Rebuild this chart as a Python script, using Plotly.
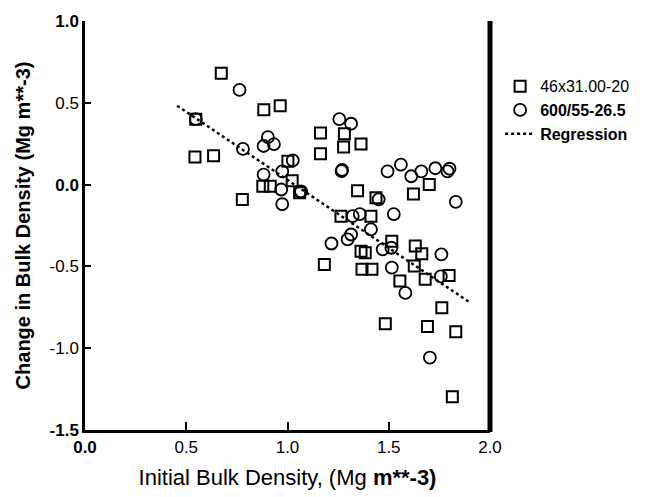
import plotly.graph_objects as go

# Series 1: 46x31.00-20 (squares)
sq_x = [0.673, 0.883, 0.964, 0.547, 0.543, 0.635, 0.777, 0.878, 0.915, 1.002,
        1.023, 1.060, 1.163, 1.163, 1.281, 1.277, 1.363, 1.346, 1.437, 1.264,
        1.412, 1.700, 1.622, 1.363, 1.384, 1.515, 1.182, 1.368, 1.417, 1.631,
        1.663, 1.626, 1.555, 1.680, 1.798, 1.762, 1.483, 1.691, 1.831, 1.814]
sq_y = [0.681, 0.457, 0.482, 0.400, 0.169, 0.177, -0.091, -0.010, -0.010, 0.142,
        0.024, -0.050, 0.315, 0.189, 0.311, 0.230, 0.248, -0.037, -0.081, -0.193,
        -0.193, 0.000, -0.057, -0.407, -0.417, -0.346, -0.488, -0.518, -0.518, -0.376,
        -0.423, -0.498, -0.590, -0.579, -0.555, -0.752, -0.850, -0.868, -0.900, -1.297]

# Series 2: 600/55-26.5 (circles)
ci_x = [0.763, 0.547, 0.780, 0.903, 0.882, 0.933, 0.882, 0.974, 1.026, 0.969,
        0.974, 1.067, 1.062, 1.256, 1.314, 1.267, 1.270, 1.494, 1.560, 1.611,
        1.661, 1.730, 1.790, 1.800, 1.831, 1.450, 1.525, 1.322, 1.357, 1.412,
        1.297, 1.314, 1.217, 1.470, 1.513, 1.515, 1.760, 1.582, 1.757, 1.703]
ci_y = [0.579, 0.400, 0.218, 0.290, 0.236, 0.247, 0.061, 0.081, 0.148, -0.030,
        -0.120, -0.041, -0.045, 0.400, 0.372, 0.083, 0.090, 0.081, 0.122, 0.051,
        0.081, 0.100, 0.081, 0.097, -0.105, -0.090, -0.180, -0.193, -0.180, -0.274,
        -0.335, -0.305, -0.360, -0.396, -0.386, -0.508, -0.427, -0.662, -0.561, -1.057]

# Regression line end points
reg_x = [0.455, 1.900]
reg_y = [0.482, -0.720]

x_ticks = [0.0, 0.5, 1.0, 1.5, 2.0]
x_tick_text = ["<b>0.0</b>", "0.5", "1.0", "1.5", "2.0"]
y_ticks = [-1.5, -1.0, -0.5, 0.0, 0.5, 1.0]
y_tick_text = ["<b>-1.5</b>", "-1.0", "-0.5", "<b>0.0</b>", "0.5", "<b>1.0</b>"]

FONT = "Liberation Sans, Arial, sans-serif"

fig = go.Figure()
fig.add_trace(go.Scatter(
    x=sq_x, y=sq_y, mode="markers", name="46x31.00-20",
    marker=dict(symbol="square-open", size=11, color="black",
                line=dict(width=2, color="black")),
))
fig.add_trace(go.Scatter(
    x=ci_x, y=ci_y, mode="markers", name="<b>600/55-26.5</b>",
    marker=dict(symbol="circle-open", size=12, color="black",
                line=dict(width=1.8, color="black")),
))
fig.add_trace(go.Scatter(
    x=reg_x, y=reg_y, mode="lines", name="<b>Regression</b>",
    line=dict(color="black", width=2.5, dash="dot"),
))

fig.update_layout(
    width=657, height=497,
    margin=dict(l=77, r=175, t=13, b=75),
    paper_bgcolor="white", plot_bgcolor="white",
    font=dict(family=FONT, color="black", size=16),
    showlegend=True,
    legend=dict(x=1.025, y=0.882, xanchor="left", yanchor="top",
                font=dict(size=16, family=FONT), tracegroupgap=0,
                itemwidth=30, bgcolor="rgba(0,0,0,0)"),
    xaxis=dict(range=[0, 2.0], tickvals=x_ticks, ticktext=x_tick_text,
               ticks="inside", ticklen=8, tickwidth=2, tickcolor="black",
               showgrid=False, zeroline=False, showline=True,
               linecolor="black", linewidth=3, automargin=False,
               tickfont=dict(size=17, family=FONT),
               title=dict(text="Initial Bulk Density, (Mg <b>m**-3)</b>",
                          font=dict(size=22, family=FONT), standoff=14)),
    yaxis=dict(range=[-1.5, 1.0], tickvals=y_ticks, ticktext=y_tick_text,
               ticks="inside", ticklen=6, tickwidth=2, tickcolor="black",
               showgrid=False, zeroline=False, showline=True,
               linecolor="black", linewidth=2.5, automargin=False,
               tickfont=dict(size=17, family=FONT),
               title=dict(text="<b>Change in Bulk Density (Mg m**-3)</b>",
                          font=dict(size=20, family=FONT), standoff=14)),
    shapes=[dict(type="line", xref="paper", yref="paper", x0=1, x1=1, y0=-0.005, y1=1,
                 line=dict(color="black", width=5))],
)

fig.write_html("out.html")
